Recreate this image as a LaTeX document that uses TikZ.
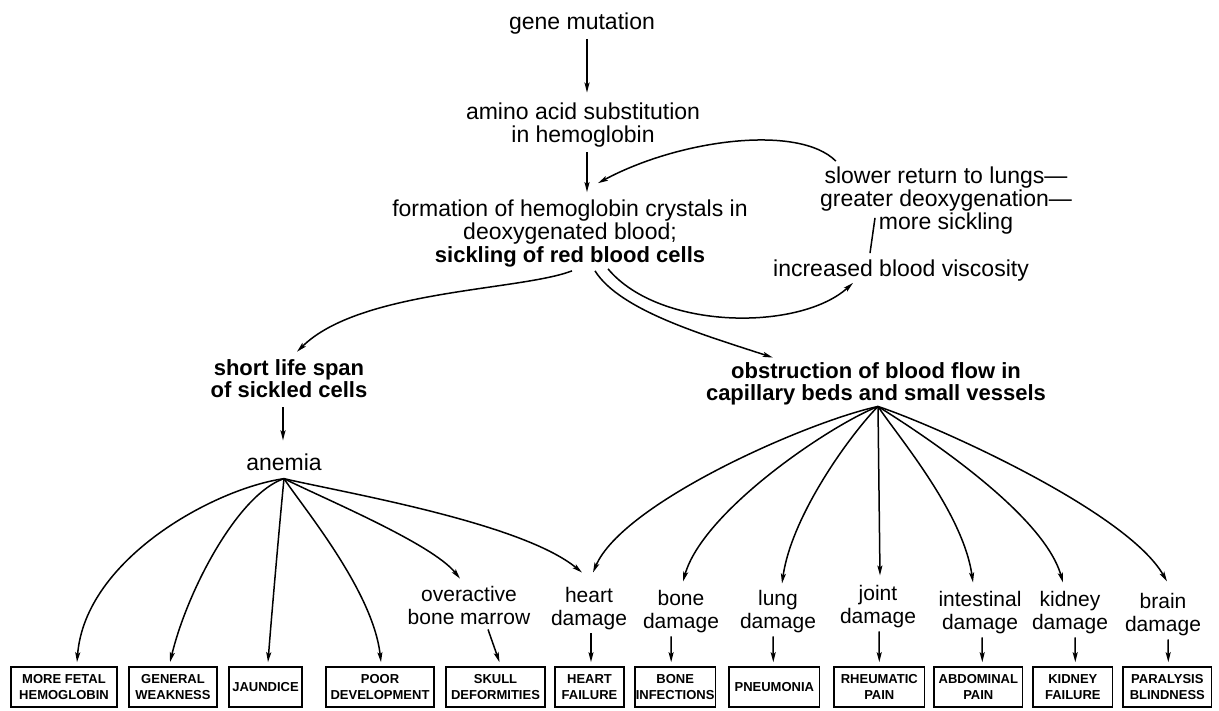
\documentclass[tikz,border=0pt]{standalone}
\usepackage{fontspec}
\setmainfont{Liberation Sans}
\usetikzlibrary{arrows.meta, positioning}

\begin{document}
\begin{tikzpicture}[x=1pt,y=-1pt,
  every node/.style={align=center,inner sep=0pt},
  txt/.style={font=\fontsize{23}{23}\selectfont},
  btxt/.style={font=\fontsize{22}{22}\selectfont\bfseries},
  dmg/.style={font=\fontsize{21}{23}\selectfont},
  effect/.style={rectangle,draw,line width=1.6pt,minimum height=40pt,inner sep=1pt,font=\fontsize{13}{15.5}\selectfont\bfseries},
  arr/.style={line width=1.5pt,-{Stealth[length=10pt,width=5pt,inset=2pt]}},
  ln/.style={line width=1.5pt}]
\useasboundingbox (0,0) rectangle (1219,710);
  \node(gene)[txt] at (582,24) {gene mutation};
  \node(amino)[txt] at (583,125) {amino acid substitution\\in hemoglobin};
  \node(form)[txt] at (570,233) {formation of hemoglobin crystals in\\deoxygenated blood;\\{\fontsize{22}{23}\selectfont\bfseries sickling of red blood cells}};
  \node(slower)[txt] at (946,201) {slower return to lungs—\\greater deoxygenation—\\more sickling};
  \node(visc)[txt] at (901,271) {increased blood viscosity};
%
  \node(short)[btxt] at (289,379) {short life span\\of sickled cells};
  \node(obst)[btxt] at (876,384) {obstruction of blood flow in\\capillary beds and small vessels};
  \node(anemia)[txt] at (284,462) {anemia};
%
  \node(overact)[dmg] at (469,605) {overactive\\bone marrow};
  \node(heartdmg)[dmg] at (589,609) {heart\\damage};
  \node(bonedmg)[dmg] at (681,612) {bone\\damage};
  \node(lungdmg)[dmg] at (778,612) {lung\\damage};
  \node(jointdmg)[dmg] at (878,607) {joint\\damage};
  \node(intdmg)[dmg] at (980,613) {intestinal\\damage};
  \node(kiddmg)[dmg] at (1070,613) {kidney\\damage};
  \node(braindmg)[dmg] at (1163,615) {brain\\damage};
%
  \node(fetal)[effect,minimum width=106.4pt] at (64,687) {MORE FETAL\\HEMOGLOBIN};
  \node(weak)[effect,minimum width=88.4pt,right=10pt of fetal] {GENERAL\\WEAKNESS};
  \node(jaund)[effect,minimum width=73.4pt,right=10pt of weak] {JAUNDICE};
  \node(poor)[effect,minimum width=108.4pt,right=22pt of jaund] {POOR\\DEVELOPMENT};
  \node(skull)[effect,minimum width=99.4pt,right=10pt of poor] {SKULL\\DEFORMITIES};
  \node(hfail)[effect,minimum width=69.4pt,right=8pt of skull] {HEART\\FAILURE};
  \node(boneinf)[effect,minimum width=80.4pt,right=9pt of hfail] {BONE\\INFECTIONS};
  \node(pneu)[effect,minimum width=90.4pt,right=12pt of boneinf] {PNEUMONIA};
  \node(rheum)[effect,minimum width=90.4pt,right=13pt of pneu] {RHEUMATIC\\PAIN};
  \node(abdom)[effect,minimum width=88.4pt,right=8pt of rheum] {ABDOMINAL\\PAIN};
  \node(kfail)[effect,minimum width=79.4pt,right=9pt of abdom] {KIDNEY\\FAILURE};
  \node(paral)[effect,minimum width=88.4pt,right=9pt of kfail] {PARALYSIS\\BLINDNESS};
%
\draw[arr]([xshift=5pt,yshift=-4pt]gene.south)--([xshift=4pt,yshift=10pt]amino.north);
\draw[arr]([xshift=4pt,yshift=-5pt]amino.south)--([xshift=17pt,yshift=7pt]form.north);
\draw[arr]([xshift=16pt,yshift=6pt]slower.north west)..controls +(-37,-37) and +(82,-44)..([xshift=28pt,yshift=16pt]form.north);
\draw[ln]([xshift=-31pt,yshift=7pt]visc.north)--([xshift=-71pt,yshift=17pt]slower.south);
\draw[arr]([xshift=38pt,yshift=-2pt]form.south)..controls +(52,62) and +(-53,48)..([xshift=-48pt,yshift=-1pt]visc.south);
\draw[arr]([xshift=25pt,yshift=-4pt]form.south)..controls +(25,40) and +(-67,-22)..([xshift=67pt,yshift=5pt]obst.north west);
\draw[arr]([xshift=2pt,yshift=-4pt]form.south)..controls +(-52,20) and +(63,-62)..([xshift=8pt,yshift=8pt]short.north);
\draw[arr]([xshift=-6pt,yshift=-9pt]short.south)--([xshift=-1pt,yshift=13pt]anemia.north);
%
\draw[arr]([yshift=-8pt]anemia.south)..controls +(-70,10) and +(8,-103)..([xshift=13pt,yshift=4pt]fetal.north);
\draw[arr]([yshift=-8pt]anemia.south)..controls +(-45,15) and +(18,-74)..([xshift=-3pt,yshift=4pt]weak.north);
\draw[arr]([yshift=-8pt]anemia.south)..controls +(-4,40) and +(3,-40)..([xshift=2.5pt,yshift=4pt]jaund.north);
\draw[arr]([yshift=-8pt]anemia.south)..controls +(20,30) and +(-8,-71)..([xshift=1pt,yshift=4pt]poor.north);
\draw[arr]([yshift=-8pt]anemia.south)..controls +(40,20) and +(-28,-35)..([xshift=-9pt,yshift=7pt]overact.north);
\draw[arr]([yshift=-8pt]anemia.south)..controls +(60,14) and +(-61,-50)..([xshift=-7pt,yshift=15pt]heartdmg.north);
%
\draw[arr]([xshift=2pt,yshift=-1pt]obst.south)..controls +(-70,15) and +(30,-70)..([xshift=4pt,yshift=15pt]heartdmg.north);
\draw[arr]([xshift=2pt,yshift=-1pt]obst.south)..controls +(-50,20) and +(20,-70)..([xshift=2pt,yshift=9pt]bonedmg.north);
\draw[arr]([xshift=2pt,yshift=-1pt]obst.south)..controls +(-25,25) and +(10,-70)..([xshift=4pt,yshift=7pt]lungdmg.north);
\draw[arr]([xshift=2pt,yshift=-1pt]obst.south)--([xshift=2pt,yshift=10pt]jointdmg.north);
\draw[arr]([xshift=2pt,yshift=-1pt]obst.south)..controls +(20,30) and +(-10,-70)..([xshift=-7pt,yshift=9pt]intdmg.north);
\draw[arr]([xshift=2pt,yshift=-1pt]obst.south)..controls +(40,25) and +(-20,-70)..([xshift=-7pt,yshift=9pt]kiddmg.north);
\draw[arr]([xshift=2pt,yshift=-1pt]obst.south)..controls +(60,20) and +(-40,-70)..([xshift=4pt,yshift=12pt]braindmg.north);
%
\draw[arr]([xshift=19pt,yshift=-5pt]overact.south)--([xshift=4pt,yshift=4pt]skull.north);
\draw[arr]([xshift=2pt,yshift=-3pt]heartdmg.south)--([xshift=1.5pt,yshift=4pt]hfail.north);
\draw[arr]([xshift=-10pt,yshift=-3pt]bonedmg.south)--([xshift=-4pt,yshift=4pt]boneinf.north);
\draw[arr]([xshift=-5pt,yshift=-3pt]lungdmg.south)--([xshift=-1pt,yshift=4pt]pneu.north);
\draw[arr]([xshift=1pt,yshift=-3pt]jointdmg.south)--([yshift=4pt]rheum.north);
\draw[arr]([xshift=2pt,yshift=-3pt]intdmg.south)--([xshift=4pt,yshift=4pt]abdom.north);
\draw[arr]([xshift=5pt,yshift=-3pt]kiddmg.south)--([xshift=2.5pt,yshift=4pt]kfail.north);
\draw[arr]([xshift=5pt,yshift=-3pt]braindmg.south)--([xshift=1pt,yshift=4pt]paral.north);
\end{tikzpicture}
\end{document}
